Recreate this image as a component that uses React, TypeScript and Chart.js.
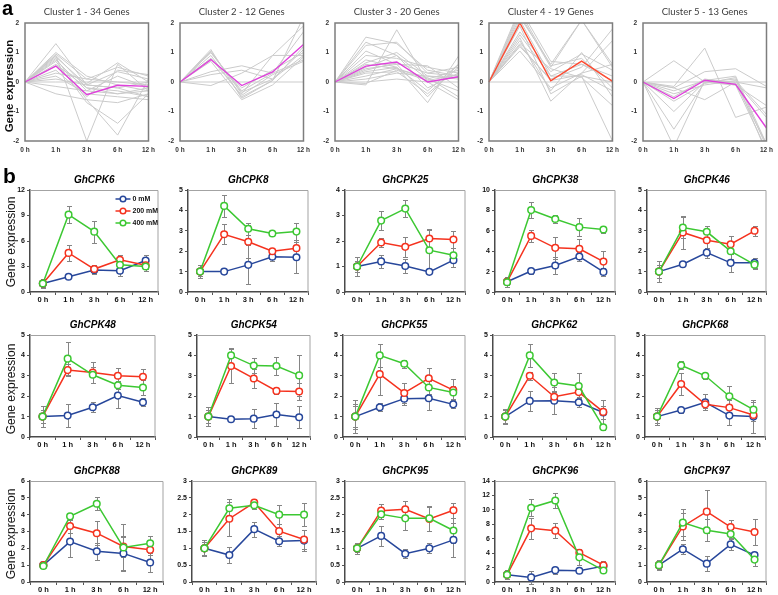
import React, { useEffect, useRef } from "react";
import { Chart, registerables } from "chart.js";

Chart.register(...registerables);

// ---------------- shared labels ----------------
const timeLabels = ["0 h", "1 h", "3 h", "6 h", "12 h"];
const seriesLabels = ["0 mM", "200 mM", "400 mM"];
const seriesColors = ["#27479b", "#f5321e", "#3cc832"];

// ---------------- panel a : clusters ----------------
const clusterTitles = [
  "Cluster 1 - 34 Genes",
  "Cluster 2 - 12 Genes",
  "Cluster 3 - 20 Genes",
  "Cluster 4 - 19 Genes",
  "Cluster 5 - 13 Genes",
];
const clusterMeanColors = ["#e040dc", "#e040dc", "#e040dc", "#ff4a30", "#e040dc"];

const cluster1Genes = [
  [0, 1.3, -0.1, -0.2, 0.0],
  [0, 0.9, -2.0, 0.6, -0.3],
  [0, 0.8, -0.6, -1.8, 0.1],
  [0, 0.7, -0.7, -1.4, -0.4],
  [0, 1.0, 0.2, -0.1, -0.3],
  [0, 0.95, 0.1, 0.5, 0.2],
  [0, 0.85, -0.1, 0.35, 0.1],
  [0, 0.75, -0.3, 0.2, -0.2],
  [0, 0.6, -0.2, -0.3, -0.5],
  [0, 0.3, 0.1, 0.0, -0.1],
  [0, 0.2, -0.4, -0.5, -0.6],
  [0, 0.0, 0.0, 0.0, 0.0],
  [0, -0.15, -0.3, -0.4, -0.3],
  [0, -0.4, -0.6, -0.7, -0.4],
  [0, 0.4, -0.5, 0.4, 0.25],
  [0, 0.9, -0.2, -0.4, -0.2],
  [0, 0.55, -0.05, 0.65, 0.0],
  [0, 0.1, -0.1, -0.2, -0.5],
];
const cluster1Mean = [0, 0.54, -0.43, -0.11, -0.15];

const cluster2Genes = [
  [0, 1.1, -0.55, 0.05, 2.2],
  [0, 1.05, -0.4, 0.9, 1.9],
  [0, 1.0, -0.3, 0.3, 1.7],
  [0, 0.9, -0.5, 0.05, 1.2],
  [0, 0.8, -0.2, 0.4, 1.0],
  [0, 0.7, -0.6, -0.1, 0.85],
  [0, 0.35, 0.55, 0.3, 0.75],
  [0, 0.25, 0.4, 0.1, 0.9],
  [0, -0.12, 0.3, 0.9, 0.9],
  [0, 0.0, 0.0, 0.0, 0.0],
  [0, 0.8, -0.45, 0.25, 0.7],
  [0, 1.0, -0.35, 0.1, 1.1],
];
const cluster2Mean = [0, 0.76, -0.12, 0.34, 1.27];

const cluster3Genes = [
  [0, 1.52, 1.3, 0.4, 0.2],
  [0, 1.35, 0.9, 0.1, -0.3],
  [0, 1.24, 1.35, 0.3, 0.5],
  [0, 1.05, 0.6, -0.5, 0.6],
  [0, 0.9, 0.8, 0.5, 0.3],
  [0, -0.1, 1.77, 0.0, -0.6],
  [0, 0.75, 0.5, -0.7, 0.88],
  [0, 0.6, 0.45, 0.1, 0.4],
  [0, 0.45, 0.6, 0.55, -0.2],
  [0, 0.35, 0.5, -0.3, 0.6],
  [0, 0.2, 0.45, 0.15, -0.5],
  [0, 0.1, 0.3, 0.2, 0.1],
  [0, 0.0, 0.1, 0.0, 0.0],
  [0, 0.5, 0.9, -0.2, 0.3],
  [0, 0.4, 0.65, 0.3, 0.2],
  [0, 0.3, 0.35, -0.4, 0.5],
  [0, 0.65, 1.0, 0.2, 0.15],
  [0, -0.05, 0.4, 0.05, 0.25],
];
const cluster3Mean = [0, 0.54, 0.68, 0.0, 0.18];

const cluster4Genes = [
  [0, 2.5, 0.7, 0.6, 0.2],
  [0, 2.3, 0.5, 2.1, 0.6],
  [0, 2.1, 0.2, 0.2, -2.0],
  [0, 1.7, 0.35, 0.95, 0.4],
  [0, 1.5, -0.65, 0.3, 1.4],
  [0, 1.4, -0.3, 1.0, -0.5],
  [0, 1.3, 0.45, 0.15, -0.8],
  [0, 1.2, 0.1, 0.5, 1.8],
  [0, 1.05, -0.2, 0.3, 0.6],
  [0, 0.0, 0.0, 0.0, 0.0],
  [0, 2.4, 0.55, 0.8, -0.2],
  [0, 1.6, 0.2, 0.6, 0.05],
  [0, 2.2, 0.6, 2.1, 0.5],
  [0, 1.25, 0.05, 0.25, -0.3],
  [0, 1.9, -0.4, 0.2, 0.0],
];
const cluster4Mean = [0, 2.0, 0.04, 0.71, 0.02];

const cluster5Genes = [
  [0, 0.72, 0.0, -0.1, -0.8],
  [0, -0.15, 1.15, -1.2, -0.85],
  [0, -0.2, 0.35, 0.45, -0.15],
  [0, -0.3, 0.05, 0.2, -2.1],
  [0, -0.65, -0.05, 0.15, -2.2],
  [0, -1.0, 0.0, -0.1, -2.3],
  [0, -1.6, 0.0, 0.1, -2.4],
  [0, -2.2, 0.05, 0.0, -1.2],
  [0, 0.0, 0.0, 0.0, 0.0],
  [0, -0.2, -0.6, 0.0, -0.2],
  [0, -0.4, -0.1, 0.05, -1.1],
  [0, -0.5, 0.1, -0.05, -2.1],
];
const cluster5Mean = [0, -0.56, 0.06, -0.08, -1.56];

const clusterGenes = [cluster1Genes, cluster2Genes, cluster3Genes, cluster4Genes, cluster5Genes];
const clusterMeans = [cluster1Mean, cluster2Mean, cluster3Mean, cluster4Mean, cluster5Mean];

// ---------------- panel b : genes (rows: 0 mM, 200 mM, 400 mM) ----------------
const cpk6Values = [[1.0, 1.8, 2.6, 2.5, 3.7], [1.0, 4.6, 2.7, 3.8, 3.15], [1.0, 9.1, 7.1, 3.2, 3.0]];
const cpk6Errors = [[0.5, 0.2, 0.5, 0.6, 0.6], [0.4, 0.95, 0.5, 0.6, 0.4], [0.3, 1.0, 1.3, 0.4, 0.5]];
const cpk8Values = [[1.0, 1.0, 1.33, 1.73, 1.7], [1.0, 2.83, 2.46, 2.0, 2.15], [1.0, 4.22, 3.1, 2.87, 2.96]];
const cpk8Errors = [[0.33, 0.1, 0.95, 0.2, 0.75], [0.2, 0.5, 0.8, 0.1, 0.4], [0.2, 0.52, 0.3, 0.1, 0.4]];
const cpk25Values = [[1.0, 1.2, 1.02, 0.79, 1.25], [1.0, 1.94, 1.77, 2.1, 2.06], [1.0, 2.8, 3.27, 1.64, 1.44]];
const cpk25Errors = [[0.39, 0.25, 0.26, 0.1, 0.28], [0.2, 0.17, 0.4, 0.38, 0.34], [0.2, 0.37, 0.33, 0.8, 0.28]];
const cpk38Values = [[1.0, 2.06, 2.6, 3.48, 1.97], [1.0, 5.5, 4.33, 4.23, 2.98], [0.95, 8.03, 7.15, 6.36, 6.13]];
const cpk38Errors = [[0.5, 0.25, 0.85, 0.4, 0.4], [0.3, 0.6, 1.1, 1.0, 1.0], [0.3, 0.8, 0.4, 0.85, 0.3]];
const cpk46Values = [[1.0, 1.36, 1.93, 1.43, 1.43], [1.0, 2.92, 2.54, 2.34, 3.0], [1.0, 3.16, 2.95, 2.0, 1.34]];
const cpk46Errors = [[0.53, 0.1, 0.25, 0.45, 0.25], [0.3, 0.8, 0.4, 0.4, 0.25], [0.3, 0.5, 0.3, 0.4, 0.2]];
const cpk48Values = [[1.0, 1.05, 1.46, 2.03, 1.7], [1.0, 3.28, 3.16, 3.0, 2.95], [1.0, 3.84, 3.05, 2.54, 2.43]];
const cpk48Errors = [[0.53, 0.55, 0.25, 0.6, 0.2], [0.3, 0.3, 0.5, 0.4, 0.4], [0.3, 0.8, 0.4, 0.2, 0.35]];
const cpk54Values = [[1.0, 0.87, 0.9, 1.1, 0.97], [1.0, 3.48, 2.87, 2.26, 2.23], [1.0, 4.0, 3.5, 3.48, 3.02]];
const cpk54Errors = [[0.45, 0.1, 0.48, 0.55, 0.53], [0.3, 0.85, 0.48, 0.15, 0.4], [0.3, 0.35, 0.38, 0.45, 1.0]];
const cpk55Values = [[1.0, 1.46, 1.88, 1.9, 1.6], [1.0, 3.08, 2.16, 2.88, 2.3], [1.0, 4.0, 3.59, 2.43, 2.18]];
const cpk55Errors = [[0.8, 0.2, 0.3, 0.6, 0.2], [0.6, 1.0, 0.5, 0.5, 0.55], [0.5, 0.58, 0.2, 0.3, 0.3]];
const cpk62Values = [[1.0, 1.77, 1.78, 1.7, 1.2], [1.0, 3.0, 1.97, 2.2, 1.23], [1.0, 4.0, 2.67, 2.5, 0.48]];
const cpk62Errors = [[0.35, 0.5, 0.67, 0.25, 0.3], [0.3, 0.2, 0.3, 0.3, 0.58], [0.3, 0.57, 0.45, 0.62, 0.12]];
const cpk68Values = [[1.0, 1.32, 1.7, 1.05, 1.0], [1.0, 2.6, 1.6, 1.44, 1.08], [1.0, 3.52, 3.0, 2.0, 1.34]];
const cpk68Errors = [[0.42, 0.12, 0.4, 0.48, 0.8], [0.3, 0.55, 0.2, 0.35, 0.3], [0.3, 0.2, 0.15, 0.5, 0.4]];
const cpk88Values = [[1.0, 2.4, 1.83, 1.7, 1.16], [1.0, 3.33, 2.9, 2.11, 1.91], [0.95, 3.9, 4.65, 2.05, 2.3]];
const cpk88Errors = [[0.15, 0.9, 0.5, 1.0, 0.55], [0.1, 0.4, 0.7, 0.6, 0.3], [0.1, 0.2, 0.4, 1.4, 0.42]];
const cpk89Values = [[1.0, 0.8, 1.57, 1.21, 1.23], [1.0, 1.88, 2.36, 1.51, 1.26], [1.0, 2.19, 2.28, 2.0, 2.0]];
const cpk89Errors = [[0.24, 0.25, 0.22, 0.15, 0.3], [0.2, 0.5, 0.12, 0.2, 0.28], [0.2, 0.27, 0.12, 0.28, 0.35]];
const cpk95Values = [[1.0, 1.37, 0.84, 1.0, 1.25], [1.0, 2.12, 2.16, 1.87, 2.13], [1.0, 2.01, 1.89, 1.89, 1.53]];
const cpk95Errors = [[0.17, 0.3, 0.14, 0.15, 0.5], [0.1, 0.19, 0.25, 0.35, 0.22], [0.1, 0.15, 0.36, 0.37, 0.38]];
const cpk96Values = [[1.0, 0.64, 1.64, 1.55, 2.2], [1.0, 7.44, 7.12, 4.06, 2.33], [1.0, 10.3, 11.3, 3.42, 1.6]];
const cpk96Errors = [[0.6, 0.9, 0.5, 0.2, 0.3], [0.3, 1.5, 1.0, 0.5, 0.6], [0.3, 1.2, 1.05, 1.0, 0.2]];
const cpk97Values = [[1.0, 1.95, 1.09, 2.24, 1.6], [1.0, 3.3, 4.18, 3.26, 2.97], [1.0, 3.53, 3.07, 2.85, 1.33]];
const cpk97Errors = [[0.3, 0.3, 0.45, 0.35, 0.2], [0.2, 0.8, 1.27, 0.4, 0.75], [0.2, 0.8, 0.65, 0.3, 0.35]];

const geneNames = [
  "GhCPK6", "GhCPK8", "GhCPK25", "GhCPK38", "GhCPK46",
  "GhCPK48", "GhCPK54", "GhCPK55", "GhCPK62", "GhCPK68",
  "GhCPK88", "GhCPK89", "GhCPK95", "GhCPK96", "GhCPK97",
];
const geneValues = [
  cpk6Values, cpk8Values, cpk25Values, cpk38Values, cpk46Values,
  cpk48Values, cpk54Values, cpk55Values, cpk62Values, cpk68Values,
  cpk88Values, cpk89Values, cpk95Values, cpk96Values, cpk97Values,
];
const geneErrors = [
  cpk6Errors, cpk8Errors, cpk25Errors, cpk38Errors, cpk46Errors,
  cpk48Errors, cpk54Errors, cpk55Errors, cpk62Errors, cpk68Errors,
  cpk88Errors, cpk89Errors, cpk95Errors, cpk96Errors, cpk97Errors,
];
const geneYMax = [12, 5, 4, 10, 5, 5, 5, 5, 5, 5, 6, 3, 3, 14, 6];
const geneYStep = [3, 1, 1, 2, 1, 1, 1, 1, 1, 1, 1, 0.5, 0.5, 2, 1];

// ---------------- layout (page pixels) ----------------
const topPlotLefts = [25, 180, 335, 489, 643];
const topPlotWidth = 127;
const topPlotTop = 23;
const topPlotHeight = 118;

const bRowTops = [190, 335, 481];
const bRowHeights = [102, 102, 101];
const bPlotX = [
  [[30, 160], [188, 310], [345, 467], [495, 617], [647, 768]],
  [[30, 157], [197, 312], [343, 467], [493, 617], [645, 767]],
  [[30, 165], [192, 318], [345, 467], [495, 617], [647, 768]],
];

const FONT = "'Liberation Sans', Arial, sans-serif";

// ---------------- plugins ----------------
const errorBarPlugin = {
  id: "errorBars",
  beforeDatasetsDraw(chart: any) {
    const ctx = chart.ctx;
    const ys = chart.scales.y;
    ctx.save();
    ctx.strokeStyle = "#858585";
    ctx.lineWidth = 1;
    chart.data.datasets.forEach((ds: any, i: number) => {
      if (!ds.errors) return;
      const meta = chart.getDatasetMeta(i);
      meta.data.forEach((pt: any, j: number) => {
        const v = ds.data[j];
        const e = ds.errors[j];
        const x = Math.round(pt.x) + 0.5;
        const y1 = Math.round(ys.getPixelForValue(v + e)) + 0.5;
        const y2 = Math.round(ys.getPixelForValue(v - e)) + 0.5;
        ctx.beginPath();
        ctx.moveTo(x, y1);
        ctx.lineTo(x, y2);
        ctx.moveTo(x - 2.5, y1);
        ctx.lineTo(x + 2.5, y1);
        ctx.moveTo(x - 2.5, y2);
        ctx.lineTo(x + 2.5, y2);
        ctx.stroke();
      });
    });
    ctx.restore();
  },
};

const boxPlugin = {
  id: "boxTR",
  beforeDatasetsDraw(chart: any) {
    const { left, right, top, bottom } = chart.chartArea;
    const ctx = chart.ctx;
    ctx.save();
    ctx.strokeStyle = "#a3a3a3";
    ctx.lineWidth = 1;
    ctx.beginPath();
    ctx.moveTo(left, top + 0.5);
    ctx.lineTo(right - 0.5, top + 0.5);
    ctx.lineTo(right - 0.5, bottom);
    ctx.stroke();
    ctx.restore();
  },
};

const framePlugin = {
  id: "frameAll",
  afterDatasetsDraw(chart: any) {
    const { left, right, top, bottom } = chart.chartArea;
    const ctx = chart.ctx;
    ctx.save();
    ctx.strokeStyle = "#7d7d7d";
    ctx.lineWidth = 1.5;
    ctx.strokeRect(left, top, right - left, bottom - top);
    ctx.restore();
  },
};

const legendPlugin = {
  id: "insideLegend",
  afterDatasetsDraw(chart: any) {
    const { right, top } = chart.chartArea;
    const ctx = chart.ctx;
    ctx.save();
    chart.data.datasets.forEach((ds: any, k: number) => {
      const yy = top + 9 + 12 * k;
      ctx.strokeStyle = ds.borderColor;
      ctx.lineWidth = 1.5;
      ctx.beginPath();
      ctx.moveTo(right - 43, yy);
      ctx.lineTo(right - 28, yy);
      ctx.stroke();
      ctx.beginPath();
      ctx.fillStyle = "#fff";
      ctx.arc(right - 35.5, yy, 2.8, 0, Math.PI * 2);
      ctx.fill();
      ctx.stroke();
      ctx.fillStyle = "#111";
      ctx.font = `bold 7px ${FONT}`;
      ctx.textBaseline = "middle";
      ctx.textAlign = "left";
      ctx.fillText(ds.label, right - 26, yy + 0.5);
    });
    ctx.restore();
  },
};

// ---------------- configs ----------------
function topConfig(idx: number): any {
  const genes = clusterGenes[idx];
  return {
    type: "line",
    data: {
      labels: timeLabels,
      datasets: [
        ...genes.map((g) => ({
          data: g,
          borderColor: "#cbcbcb",
          borderWidth: 1,
          pointRadius: 0,
          order: 1,
        })),
        {
          data: clusterMeans[idx],
          borderColor: clusterMeanColors[idx],
          borderWidth: 1.4,
          pointRadius: 0,
          order: 0,
        },
      ],
    },
    options: {
      responsive: false,
      animation: false,
      devicePixelRatio: 1,
      layout: { padding: { left: 0, right: 8, top: 0, bottom: 0 } },
      plugins: {
        legend: { display: false },
        tooltip: { enabled: false },
        title: {
          display: true,
          fullSize: false,
          text: clusterTitles[idx],
          color: "#3c3c3c",
          font: { family: "Lato, 'Open Sans', sans-serif", size: 9.5, weight: "normal", lineHeight: 1.2 },
          padding: { top: 6, bottom: 5.6 },
        },
      },
      scales: {
        x: {
          type: "category",
          offset: false,
          grid: { display: false, drawTicks: false },
          border: { display: false },
          ticks: {
            color: "#333",
            font: { family: FONT, size: 6.5, weight: "bold" },
            padding: 5,
            maxRotation: 0,
            autoSkip: false,
          },
          afterFit: (s: any) => {
            s.height = 17;
          },
        },
        y: {
          min: -2,
          max: 2,
          grid: { display: false, drawTicks: false },
          border: { display: false },
          ticks: {
            stepSize: 1,
            color: "#333",
            font: { family: FONT, size: 6.5, weight: "bold" },
            padding: 6,
            callback: (v: any) => String(v),
          },
          afterFit: (s: any) => {
            s.width = 24;
          },
        },
      },
    },
    plugins: [framePlugin],
  };
}

function geneConfig(idx: number, withLegend: boolean): any {
  const vals = geneValues[idx];
  const errs = geneErrors[idx];
  const orders = [2, 1, 0];
  return {
    type: "line",
    data: {
      labels: timeLabels,
      datasets: vals.map((v, k) => ({
        label: seriesLabels[k],
        data: v,
        errors: errs[k],
        borderColor: seriesColors[k],
        borderWidth: 1.5,
        pointRadius: 3.3,
        pointBorderWidth: 1.5,
        pointBackgroundColor: "#ffffff",
        pointBorderColor: seriesColors[k],
        order: orders[k],
        clip: false,
      })),
    },
    options: {
      responsive: false,
      animation: false,
      devicePixelRatio: 1,
      layout: { padding: { left: 0, right: 4, top: 0, bottom: 0 } },
      plugins: {
        legend: { display: false },
        tooltip: { enabled: false },
        title: {
          display: true,
          fullSize: false,
          text: geneNames[idx],
          color: "#000",
          font: { family: FONT, size: 10, weight: "bold", style: "italic" },
          padding: { top: 4, bottom: 4 },
        },
      },
      scales: {
        x: {
          type: "category",
          offset: true,
          grid: {
            offset: true,
            drawOnChartArea: false,
            drawTicks: true,
            tickLength: 3,
            color: "#555",
          },
          border: { display: true, color: "#4a4a4a", width: 1.5 },
          ticks: {
            color: "#111",
            font: { family: FONT, size: 7.5, weight: "bold" },
            padding: 0,
            maxRotation: 0,
            autoSkip: false,
          },
          afterFit: (s: any) => {
            s.height = 14;
          },
        },
        y: {
          min: 0,
          max: geneYMax[idx],
          grid: {
            drawOnChartArea: false,
            drawTicks: true,
            tickLength: 3,
            color: "#555",
          },
          border: { display: true, color: "#4a4a4a", width: 1.5 },
          ticks: {
            stepSize: geneYStep[idx],
            color: "#111",
            font: { family: FONT, size: 7, weight: "bold" },
            padding: 2,
            callback: (v: any) => String(v),
          },
          afterFit: (s: any) => {
            s.width = 24;
          },
        },
      },
    },
    plugins: withLegend ? [boxPlugin, errorBarPlugin, legendPlugin] : [boxPlugin, errorBarPlugin],
  };
}

// ---------------- components ----------------
function ChartCanvas(props: { left: number; top: number; width: number; height: number; make: () => any }) {
  const ref = useRef<HTMLCanvasElement | null>(null);
  useEffect(() => {
    if (!ref.current) return;
    const chart = new Chart(ref.current, props.make());
    return () => chart.destroy();
  }, []);
  return (
    <canvas
      ref={ref}
      width={props.width}
      height={props.height}
      style={{ position: "absolute", left: props.left, top: props.top, width: props.width, height: props.height }}
    />
  );
}

function VLabel(props: { cx: number; cy: number; text: string; bold: boolean; size: number }) {
  return (
    <div
      style={{
        position: "absolute",
        left: props.cx,
        top: props.cy,
        transform: "translate(-50%, -50%) rotate(-90deg)",
        whiteSpace: "nowrap",
        fontFamily: FONT,
        fontSize: props.size,
        fontWeight: props.bold ? "bold" : "normal",
        color: "#111",
        lineHeight: 1,
      }}
    >
      {props.text}
    </div>
  );
}

export default function App() {
  const items: any[] = [];

  topPlotLefts.forEach((L, i) => {
    items.push(
      <ChartCanvas
        key={"top" + i}
        left={L - 24}
        top={0}
        width={24 + topPlotWidth + 8}
        height={topPlotTop + topPlotHeight + 17}
        make={() => topConfig(i)}
      />
    );
  });

  bRowTops.forEach((T, r) => {
    bPlotX[r].forEach(([L, R], c) => {
      const idx = r * 5 + c;
      items.push(
        <ChartCanvas
          key={"gene" + idx}
          left={L - 24}
          top={T - 20}
          width={24 + (R - L) + 4}
          height={20 + bRowHeights[r] + 14}
          make={() => geneConfig(idx, idx === 0)}
        />
      );
    });
  });

  return (
    <div
      style={{
        position: "absolute",
        left: 0,
        top: 0,
        width: 778,
        height: 595,
        overflow: "hidden",
        background: "#ffffff",
      }}
    >
      {items}
      <div style={{ position: "absolute", left: 2, top: -2, fontFamily: FONT, fontWeight: "bold", fontSize: 20, lineHeight: "20px" }}>
        a
      </div>
      <div style={{ position: "absolute", left: 3, top: 165, fontFamily: FONT, fontWeight: "bold", fontSize: 21, lineHeight: "21px" }}>
        b
      </div>
      <VLabel cx={10} cy={86} text="Gene expression" bold={true} size={11.5} />
      <VLabel cx={11} cy={242} text="Gene expression" bold={false} size={12} />
      <VLabel cx={11} cy={389} text="Gene expression" bold={false} size={12} />
      <VLabel cx={11} cy={534} text="Gene expression" bold={false} size={12} />
    </div>
  );
}
